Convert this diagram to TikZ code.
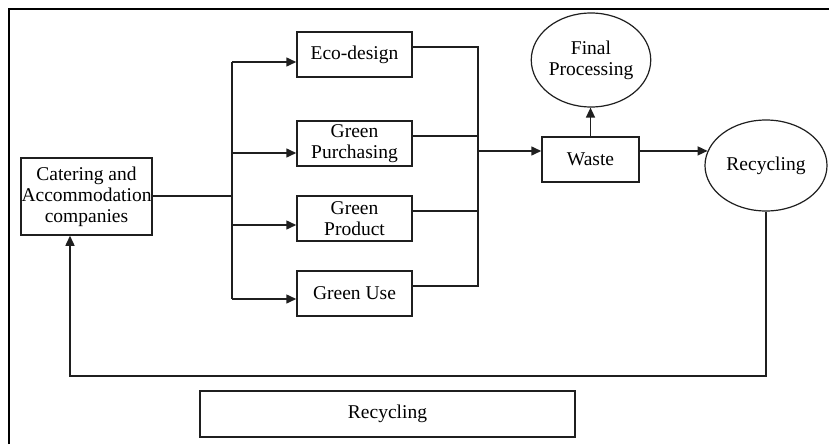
\documentclass[tikz,border=0pt]{standalone}
\usepackage{fontspec}
\setmainfont{Liberation Serif}
\usetikzlibrary{arrows.meta,shapes.geometric}
\begin{document}
\begin{tikzpicture}[x=1pt,y=-1pt,
  ink/.style={draw=black!88, line width=1.5pt},
  txt/.style={font=\fontsize{19.5}{21}\selectfont, align=center, inner sep=0pt},
  box/.style={ink, txt, rectangle, minimum width=115pt, minimum height=45pt},
  oval/.style={ink, txt, ellipse, line width=1.2pt},
  link/.style={draw=black!88, line width=1.5pt},
  arr/.style={link, -{Triangle[length=10pt,width=9pt]}}]
\useasboundingbox (0,0) rectangle (829,444);
% outer frame (only the top and left edges fall inside the page)
\draw[line width=1.6pt] (9,444) -- (9,9) -- (829,9);

% boxes
\node[box, minimum width=131pt, minimum height=77pt] (cat) at (86.5,196.5) {Catering and\\Accommodation\\companies};
\node[box] (eco) at (354.5,54.5) {Eco-design};
\node[box] (pur) at (354.5,143.5) {Green\\Purchasing};
\node[box] (pro) at (354.5,218.5) {Green\\Product};
\node[box] (use) at (354.5,293.5) {Green Use};
\node[box, minimum width=97pt] (waste) at (590.5,159.5) {Waste};
\node[oval, minimum width=96pt, minimum height=94pt] (fin) at (591,60) {Final\\Processing};
\node[oval, minimum width=122pt, minimum height=91pt] (rec) at (766,165.5) {Recycling};
\node[box, minimum width=375pt, minimum height=46pt] (bot) at (387.5,414) {Recycling};

% junction points
\coordinate (split) at (232,196);
\coordinate (merge) at (478,151);
\coordinate (ret) at (70,376);

% fan-out from the companies
\draw[link] (cat.east |- split) -- (split);
\path (split |- eco.west) ++(0,7.5) coordinate (s1) (split |- use.west) ++(0,5.5) coordinate (s4);
\draw[link] (s1) -- (s4);
\draw[arr] (s1) -- ([yshift=-7.5pt]eco.west);
\draw[arr] (split |- pur.west) ++(0,9.5) -- ([yshift=-9.5pt]pur.west);
\draw[arr] (split |- pro.west) ++(0,6.5) -- ([yshift=-6.5pt]pro.west);
\draw[arr] (s4) -- ([yshift=-5.5pt]use.west);

% fan-in to waste
\draw[link] ([yshift=7.5pt]eco.east) -| (merge);
\draw[link] ([yshift=7.5pt]pur.east) -| (merge);
\draw[link] ([yshift=7.5pt]pro.east) -| (merge);
\draw[link] ([yshift=7.5pt]use.east) -| (merge);
\draw[arr] (merge) -- (merge -| waste.west);

% waste outputs
\draw[arr] (waste.north) -- (waste.north |- fin.south);
\draw[arr] (waste.east |- rec.166) -- (rec.166);

% return loop
\draw[arr] (rec.south) |- (ret) -- (ret |- cat.south);
\end{tikzpicture}
\end{document}
